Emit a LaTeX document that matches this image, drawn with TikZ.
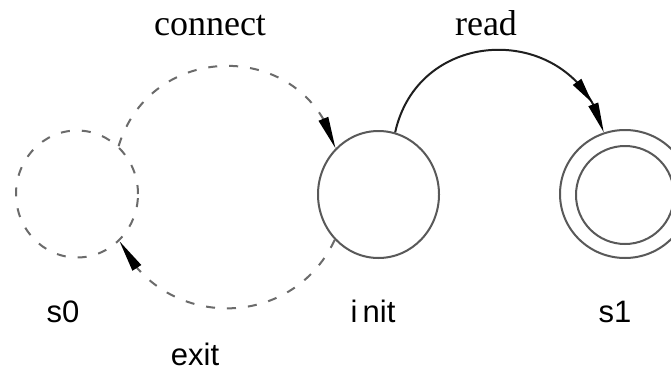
\documentclass[tikz,border=0pt]{standalone}
\usepackage{fontspec}
\setmainfont{Liberation Serif}
\setsansfont{Liberation Sans}
\usetikzlibrary{shapes.geometric,arrows.meta,bending}
\begin{document}
\begin{tikzpicture}[x=1pt,y=-1pt,
  state/.style={ellipse,draw=black!65,line width=2pt,inner sep=0pt},
  dashstate/.style={state,draw=black!58,dash pattern=on 9pt off 12pt},
  dashedge/.style={draw=black!58,line width=2pt,dash pattern=on 9pt off 12pt},
  solidedge/.style={draw=black!88,line width=2pt},
  headtip/.style={-{Triangle[length=32pt,width=10pt,color=black]}},
  statelabel/.style={font=\sffamily\fontsize{31}{31}\selectfont,anchor=base,inner sep=0pt},
  edgelabel/.style={font=\fontsize{36}{36}\selectfont,anchor=base,inner sep=0pt}]
\useasboundingbox (0,0) rectangle (671,372);
\clip (0,0) rectangle (671,372);
\fill[white] (0,0) rectangle (671,372);
% states
\node[dashstate,minimum width=122pt,minimum height=127pt] (s0) at (77,194) {};
\node[state,minimum width=121pt,minimum height=127pt] (init) at (378.5,194.5) {};
\node[state,minimum width=130pt,minimum height=128pt] (s1) at (625,194) {};
\node[state,minimum width=98pt,minimum height=98pt] (s1in) at (625,195) {};
% labels
\node[statelabel] (ls0) at (63,322) {s0};
\node[statelabel] (linit) at (373,322) {i\,nit};
\node[statelabel] (ls1) at (615,322) {s1};
\node[edgelabel] (lconnect) at (210,35) {connect};
\node[edgelabel] (lread) at (486,35) {read};
\node[statelabel] (lexit) at (195,365) {exit};
% edges
\draw[dashedge,headtip] (s0.49) to[out=73,in=105,looseness=1.33] (init.133);
\draw[dashedge,headtip] (init.226) to[out=-115,in=-64,looseness=1.19] (s0.-48);
\draw[solidedge,-{Triangle[length=26pt,width=10pt,color=black,sep=3pt] Triangle[length=30pt,width=10pt,color=black]}]
  (init.75) to[out=77.5,in=103.5,looseness=1.39] (s1.109);
\end{tikzpicture}
\end{document}
